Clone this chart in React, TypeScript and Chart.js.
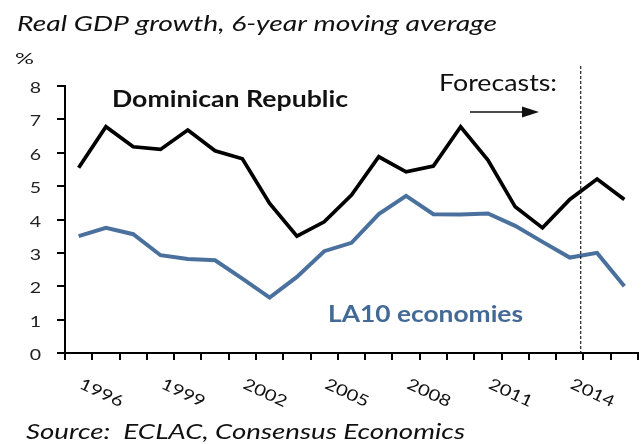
import React, { useEffect, useRef } from "react";
import { Chart, registerables } from "chart.js";

Chart.register(...registerables);

const years = ["1995","1996","1997","1998","1999","2000","2001","2002","2003","2004","2005","2006","2007","2008","2009","2010","2011","2012","2013","2014","2015"];
const labelYears = ["1996","1999","2002","2005","2008","2011","2014"];
const dominicanRepublic = [5.55,6.78,6.18,6.1,6.68,6.06,5.82,4.48,3.5,3.93,4.73,5.88,5.43,5.6,6.78,5.78,4.38,3.75,4.6,5.21,4.6];
const la10 = [3.5,3.75,3.56,2.93,2.82,2.78,2.23,1.66,2.28,3.05,3.3,4.16,4.71,4.16,4.15,4.18,3.81,3.33,2.86,3.0,2.0];
const yTicks = [0,1,2,3,4,5,6,7,8];
const forecastStartIndex = 18.4;

const FONT = "Lato, 'Open Sans', sans-serif";
const BLUE_LINE = "#4a719d";
const BLUE_TEXT = "#436a97";

// draw text horizontally stretched to a target width (x = left edge)
function fitText(ctx: any, text: string, x: number, y: number, font: string, width: number) {
  ctx.save();
  ctx.font = font;
  ctx.textAlign = "left";
  ctx.textBaseline = "alphabetic";
  const w = ctx.measureText(text).width;
  const sx = width / w;
  ctx.translate(x, y);
  ctx.scale(sx, 1);
  ctx.fillText(text, 0, 0);
  ctx.restore();
}

const overlay = {
  id: "overlay",
  afterDraw(chart: any) {
    const ctx = chart.ctx;
    const xs = chart.scales.x;
    const ys = chart.scales.y;
    const area = chart.chartArea;
    ctx.save();
    ctx.fillStyle = "#111";
    fitText(ctx, "Real GDP growth, 6-year moving average", 17, 31, `italic 22px ${FONT}`, 480);
    fitText(ctx, "%", 15, 64, `16px ${FONT}`, 19);
    fitText(ctx, "Dominican Republic", 112, 107, `bold 23px ${FONT}`, 236);
    fitText(ctx, "Forecasts:", 439, 91, `24px ${FONT}`, 118);
    ctx.fillStyle = BLUE_TEXT;
    fitText(ctx, "LA10 economies", 328, 322, `bold 23px ${FONT}`, 195);

    // y tick labels
    ctx.fillStyle = "#222";
    yTicks.forEach((v) => {
      const py = ys.getPixelForValue(v);
      ctx.save();
      ctx.font = `16px ${FONT}`;
      ctx.textAlign = "right";
      ctx.textBaseline = "alphabetic";
      ctx.translate(41, py + 7);
      ctx.scale(1.22, 1);
      ctx.fillText(String(v), 0, 0);
      ctx.restore();
    });

    // arrow
    ctx.strokeStyle = "#111";
    ctx.fillStyle = "#111";
    ctx.lineWidth = 1.5;
    ctx.beginPath();
    ctx.moveTo(470, 112);
    ctx.lineTo(526, 112);
    ctx.stroke();
    ctx.beginPath();
    ctx.moveTo(539, 112);
    ctx.lineTo(522, 106.5);
    ctx.lineTo(522, 117.5);
    ctx.closePath();
    ctx.fill();

    // forecast divider
    const i0 = Math.floor(forecastStartIndex);
    const fx = xs.getPixelForValue(i0) + (forecastStartIndex - i0) * (xs.getPixelForValue(i0 + 1) - xs.getPixelForValue(i0));
    ctx.setLineDash([3, 2]);
    ctx.lineWidth = 1.2;
    ctx.strokeStyle = "#222";
    ctx.beginPath();
    ctx.moveTo(fx, 66);
    ctx.lineTo(fx, area.bottom);
    ctx.stroke();
    ctx.setLineDash([]);

    // rotated x labels
    ctx.fillStyle = "#111";
    labelYears.forEach((y) => {
      const idx = years.indexOf(y);
      const px = xs.getPixelForValue(idx);
      ctx.save();
      ctx.font = `16px ${FONT}`;
      ctx.textAlign = "center";
      ctx.textBaseline = "middle";
      ctx.translate(px - 4.5, area.bottom + 40);
      ctx.rotate((25 * Math.PI) / 180);
      ctx.scale(1.25, 1);
      ctx.fillText(y, 0, 0);
      ctx.restore();
    });

    ctx.fillStyle = "#111";
    fitText(ctx, "Source:  ECLAC, Consensus Economics", 26, 439, `italic 22px ${FONT}`, 439);
    ctx.restore();
  },
};

export default function App() {
  const ref = useRef<HTMLCanvasElement>(null);
  useEffect(() => {
    if (!ref.current) return;
    const chart = new Chart(ref.current, {
      type: "line",
      data: {
        labels: years,
        datasets: [
          { label: "Dominican Republic", data: dominicanRepublic, borderColor: "#000", borderWidth: 3.7, pointRadius: 0, tension: 0, fill: false },
          { label: "LA10 economies", data: la10, borderColor: BLUE_LINE, borderWidth: 4, pointRadius: 0, tension: 0, fill: false },
        ],
      },
      options: {
        animation: false,
        responsive: false,
        maintainAspectRatio: false,
        layout: { padding: { left: 0, right: 3, top: 86, bottom: 91 } },
        plugins: { legend: { display: false }, tooltip: { enabled: false }, title: { display: false } },
        scales: {
          x: {
            type: "category",
            offset: true,
            grid: { display: true, offset: true, drawOnChartArea: false, drawTicks: true, tickLength: 7, color: "#000", lineWidth: 2 },
            border: { display: true, color: "#000", width: 2 },
            ticks: { display: false },
            afterFit: (s: any) => { s.height = 0; },
          },
          y: {
            min: 0,
            max: 8,
            afterBuildTicks: (s: any) => { s.ticks = yTicks.map((v) => ({ value: v })); },
            grid: { display: true, drawOnChartArea: false, drawTicks: true, tickLength: 8, color: "#000", lineWidth: 2 },
            border: { display: true, color: "#000", width: 2 },
            ticks: { display: false },
            afterFit: (s: any) => { s.width = 65; },
          },
        },
      },
      plugins: [overlay],
    });
    return () => chart.destroy();
  }, []);
  return (
    <div style={{ position: "fixed", left: 0, top: 0, width: 641, height: 444, background: "#fff" }}>
      <canvas ref={ref} width={641} height={444} style={{ display: "block", width: 641, height: 444 }} />
    </div>
  );
}
